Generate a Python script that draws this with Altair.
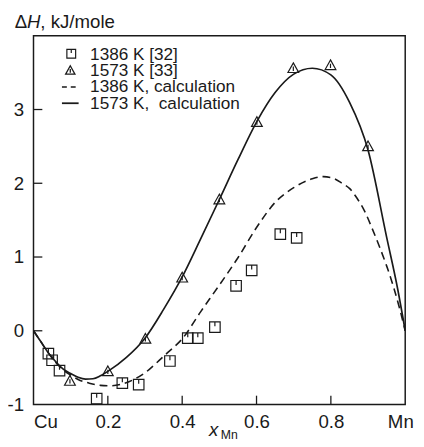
import altair as alt
import pandas as pd

# ---- data ----
# experimental points, 1386 K [32]
sq_x = [0.040, 0.050, 0.070, 0.170, 0.239, 0.283, 0.367, 0.415, 0.442, 0.488, 0.545, 0.587, 0.664, 0.708]
sq_y = [-0.31, -0.40, -0.54, -0.92, -0.71, -0.73, -0.41, -0.10, -0.10, 0.05, 0.61, 0.82, 1.31, 1.26]

# experimental points, 1573 K [33]
tri_x = [0.098, 0.200, 0.301, 0.400, 0.500, 0.601, 0.699, 0.799, 0.900]
tri_y = [-0.68, -0.55, -0.11, 0.72, 1.78, 2.83, 3.56, 3.60, 2.50]

# calculated curve, 1386 K
c1386_x = [0.00, 0.02, 0.04, 0.06, 0.08, 0.10, 0.12, 0.15, 0.18, 0.21, 0.24, 0.27, 0.30, 0.33, 0.36,
           0.40, 0.45, 0.50, 0.55, 0.60, 0.65, 0.70, 0.75, 0.78, 0.81, 0.83, 0.85, 0.87, 0.89, 0.91,
           0.93, 0.95, 0.97, 0.985, 1.00]
c1386_y = [0.00, -0.15, -0.30, -0.43, -0.53, -0.60, -0.66, -0.71, -0.74, -0.745, -0.72, -0.66, -0.57, -0.44, -0.30,
           -0.11, 0.26, 0.62, 0.99, 1.40, 1.74, 1.94, 2.06, 2.09, 2.06, 2.00, 1.93, 1.80, 1.63, 1.40,
           1.15, 0.88, 0.57, 0.30, 0.00]

# calculated curve, 1573 K
c1573_x = [0.00, 0.02, 0.04, 0.06, 0.08, 0.10, 0.12, 0.14, 0.16, 0.18, 0.20, 0.25, 0.30, 0.35, 0.40,
           0.45, 0.50, 0.55, 0.60, 0.65, 0.70, 0.75, 0.80, 0.85, 0.90, 0.95, 0.98, 1.00]
c1573_y = [0.00, -0.15, -0.30, -0.42, -0.52, -0.58, -0.63, -0.655, -0.65, -0.61, -0.55, -0.36, -0.10, 0.29, 0.73,
           1.25, 1.78, 2.32, 2.83, 3.23, 3.48, 3.56, 3.47, 3.10, 2.45, 1.27, 0.56, 0.00]

x_tick_vals = [0, 0.2, 0.4, 0.6, 0.8, 1]
x_inner_ticks = [0.2, 0.4, 0.6, 0.8]
y_tick_vals = [-1, 0, 1, 2, 3]
y_inner_ticks = [0, 1, 2, 3]

legend_labels = ["1386 K [32]", "1573 K [33]", "1386 K, calculation", "1573 K,\u00a0 calculation"]

# ---- chart ----
W, H = 379, 376
FONT = "Liberation Sans"
INK = "#1a1a1a"

xs = alt.Scale(domain=[0, 1], nice=False, zero=False)
ys = alt.Scale(domain=[-1, 4], nice=False, zero=False)

x_axis = alt.Axis(
    values=x_tick_vals,
    labelExpr="datum.value == 0 ? 'Cu' : datum.value == 1 ? 'Mn' : format(datum.value, '.1f')",
    ticks=False, tickSize=0, domain=False, grid=False, title=None,
    labelFont=FONT, labelFontSize=19, labelColor=INK, labelPadding=8,
    labelFlush=False, labelOverlap=False,
    labelAlign={"condition": {"test": "datum.value == 0", "value": "left"}, "value": "center"},
    labelOffset={"condition": {"test": "datum.value == 1", "value": -5}, "value": 0},
)
y_axis = alt.Axis(
    values=y_tick_vals, labelExpr="'' + datum.value",
    ticks=False, tickSize=0, domain=False, grid=False, title=None,
    labelFont=FONT, labelFontSize=19, labelColor=INK, labelPadding=10,
    labelBaseline="middle", labelOverlap=False,
)

X = alt.X("x:Q", scale=xs, axis=x_axis)
Y = alt.Y("y:Q", scale=ys, axis=y_axis)

d1386 = pd.DataFrame({"x": c1386_x, "y": c1386_y})
d1573 = pd.DataFrame({"x": c1573_x, "y": c1573_y})
dsq = pd.DataFrame({"x": sq_x, "y": sq_y})
dtri = pd.DataFrame({"x": tri_x, "y": tri_y})

SQ = "M-1,-1L1,-1L1,1L-1,1Z M0,-1L0,-0.15"
TRI = "M0,-1L1,0.8L-1,0.8Z M0,-0.3L0,0.5"

line1386 = alt.Chart(d1386).mark_line(
    color=INK, strokeWidth=1.6, strokeDash=[8, 5], interpolate="monotone", clip=True
).encode(x=X, y=Y)
line1573 = alt.Chart(d1573).mark_line(
    color=INK, strokeWidth=1.7, interpolate="monotone", clip=True
).encode(x=X, y=Y)
pts_sq = alt.Chart(dsq).mark_point(
    shape=SQ, size=115, filled=False, stroke=INK, strokeWidth=1.2, opacity=1
).encode(x=X, y=Y)
pts_tri = alt.Chart(dtri).mark_point(
    shape=TRI, size=120, filled=False, stroke=INK, strokeWidth=1.2, opacity=1
).encode(x=X, y=Y)

yt = alt.Chart(pd.DataFrame({"y": y_inner_ticks})).mark_rule(color=INK, strokeWidth=1.3).encode(
    y=Y, x=alt.value(0), x2=alt.value(9))
xt = alt.Chart(pd.DataFrame({"x": x_inner_ticks})).mark_rule(color=INK, strokeWidth=1.3).encode(
    x=X, y=alt.value(H), y2=alt.value(H - 9))

one = alt.Data(values=[{}])

def txt(s, x, y, size=18, style="normal", baseline="alphabetic"):
    return alt.Chart(one).mark_text(
        text=s, font=FONT, fontSize=size, fontStyle=style, color=INK,
        align="left", baseline=baseline, lineHeight=size
    ).encode(x=alt.value(x), y=alt.value(y))

# legend
rows_base = [24.8, 41.3, 57.8, 74.3]
rows_mid = [b - 6.5 for b in rows_base]
leg = [
    alt.Chart(one).mark_point(shape=SQ, size=80, filled=False, stroke=INK, strokeWidth=1.2, opacity=1)
      .encode(x=alt.value(38.5), y=alt.value(rows_mid[0])),
    alt.Chart(one).mark_point(shape=TRI, size=90, filled=False, stroke=INK, strokeWidth=1.3, opacity=1)
      .encode(x=alt.value(37.5), y=alt.value(rows_mid[1] + 0.5)),
    alt.Chart(one).mark_rule(color=INK, strokeWidth=1.6, strokeDash=[5, 4])
      .encode(x=alt.value(29), x2=alt.value(47), y=alt.value(rows_mid[2] + 1)),
    alt.Chart(one).mark_rule(color=INK, strokeWidth=1.8)
      .encode(x=alt.value(29), x2=alt.value(46), y=alt.value(rows_mid[3] + 1)),
]
for lab, b in zip(legend_labels, rows_base):
    leg.append(txt(lab, 57.7, b, size=17.5))

# axis titles
titles = [
    txt("\u0394", -19, -8, size=19),
    txt("H", -6.6, -8, size=19, style="italic"),
    txt(", kJ/mole", 7, -8, size=19),
    txt("x", 179, 408, size=19, style="italic"),
    txt("Mn", 191, 411.5, size=12.5),
]

chart = alt.layer(
    line1386, line1573, pts_sq, pts_tri, yt, xt, *leg, *titles
).properties(
    width=W, height=H,
    autosize=alt.AutoSizeParams(type="none"),
    padding={"left": 26, "top": 24, "right": 11, "bottom": 39},
).configure_view(
    stroke=INK, strokeWidth=1.5
)

chart.save("out.html", embed_options={"renderer": "svg", "actions": False})
